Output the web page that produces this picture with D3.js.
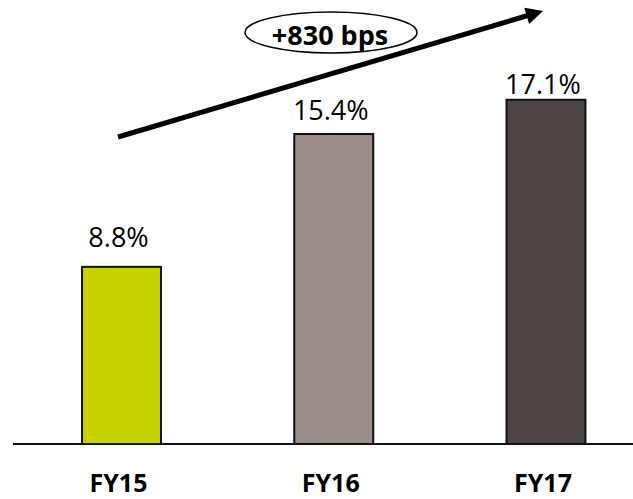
<!DOCTYPE html>
<html>
<head>
<meta charset="utf-8">
<script src="https://cdn.jsdelivr.net/npm/d3@7"></script>
<style>
  html, body { margin: 0; padding: 0; background: #fff; }
  svg { display: block; }
  text { font-family: "Open Sans", "Liberation Sans", sans-serif; fill: #000; }
</style>
</head>
<body>
<svg id="chart" width="633" height="499"></svg>
<script>
// ---- data ----
const categories = ["FY15", "FY16", "FY17"];
const values = [8.8, 15.4, 17.1];
const valueLabels = ["8.8%", "15.4%", "17.1%"];
const barColors = ["#c8d400", "#9a8c87", "#4d4443"];
const annotationText = "+830 bps";

// ---- layout ----
const W = 633, H = 499;
const baseY = 444;
const svg = d3.select("#chart");

const x = d3.scaleBand()
  .domain(categories)
  .range([15.4, 652.1])
  .paddingInner(0.628)
  .paddingOuter(0.314);

const y = d3.scaleLinear()
  .domain([0, 22])
  .range([baseY, baseY - 22 * 20.13]);

// label gaps above bars (manual placement in original)
const labelGap = [20, 14, 6];

// bars
svg.selectAll("rect.bar")
  .data(values)
  .join("rect")
  .attr("class", "bar")
  .attr("x", (d, i) => x(categories[i]))
  .attr("y", d => y(d))
  .attr("width", x.bandwidth())
  .attr("height", d => y(0) - y(d))
  .attr("fill", (d, i) => barColors[i])
  .attr("stroke", "#111")
  .attr("stroke-width", 2);

// baseline axis
svg.append("line")
  .attr("x1", 13).attr("x2", W)
  .attr("y1", baseY).attr("y2", baseY)
  .attr("stroke", "#111")
  .attr("stroke-width", 2);

// value labels
svg.selectAll("text.val")
  .data(values)
  .join("text")
  .attr("class", "val")
  .attr("x", (d, i) => x(categories[i]) + x.bandwidth() / 2 - 3)
  .attr("y", (d, i) => y(d) - labelGap[i])
  .attr("text-anchor", "middle")
  .attr("font-size", 27)
  .text((d, i) => valueLabels[i]);

// category labels
svg.selectAll("text.cat")
  .data(categories)
  .join("text")
  .attr("class", "cat")
  .attr("x", d => x(d) + x.bandwidth() / 2 - 3)
  .attr("y", 492)
  .attr("text-anchor", "middle")
  .attr("font-size", 25)
  .attr("font-weight", "bold")
  .text(d => d);

// annotation ellipse
svg.append("ellipse")
  .attr("cx", 331).attr("cy", 32.5)
  .attr("rx", 86).attr("ry", 20.5)
  .attr("fill", "#fff")
  .attr("stroke", "#000")
  .attr("stroke-width", 1.6);

svg.append("text")
  .attr("x", 330).attr("y", 45)
  .attr("text-anchor", "middle")
  .attr("font-size", 27)
  .attr("font-weight", "bold")
  .text(annotationText);

// arrow
const start = [118, 137], tip = [543, 11];
const dx = tip[0] - start[0], dy = tip[1] - start[1];
const len = Math.hypot(dx, dy);
const ux = dx / len, uy = dy / len;
const headLen = 17, headHalf = 8.5;
const base = [tip[0] - headLen * ux, tip[1] - headLen * uy];
svg.append("line")
  .attr("x1", start[0]).attr("y1", start[1])
  .attr("x2", base[0] + ux * 2).attr("y2", base[1] + uy * 2)
  .attr("stroke", "#000")
  .attr("stroke-width", 5);
svg.append("polygon")
  .attr("points", [
    tip,
    [base[0] - uy * headHalf, base[1] + ux * headHalf],
    [base[0] + uy * headHalf, base[1] - ux * headHalf]
  ].map(p => p.join(",")).join(" "))
  .attr("fill", "#000");
</script>
</body>
</html>
